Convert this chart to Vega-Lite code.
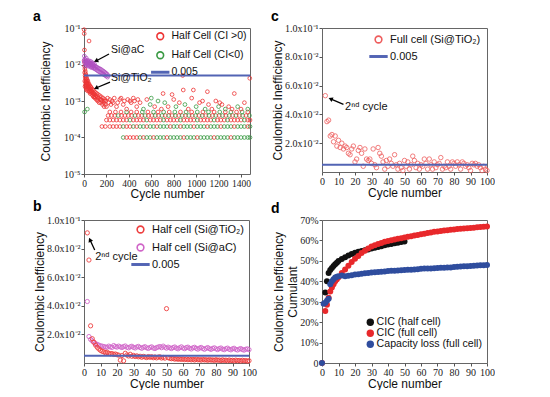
{
"$schema": "https://vega.github.io/schema/vega-lite/v6.json",
"background": "white",
"padding": {"left": 32, "top": 9, "right": 0, "bottom": 0},
"config": {
  "view": {"stroke": "#666", "strokeWidth": 1},
  "font": "Liberation Sans",
  "axis": {"labelFont": "Liberation Serif", "labelFontSize": 10, "labelColor": "#222", "titleFont": "Liberation Sans", "titleFontSize": 12, "titleFontWeight": "normal", "titleColor": "#111", "grid": false, "domain": false, "tickColor": "#555", "tickSize": 3, "labelPadding": 1, "labelFlush": false, "labelOverlap": false},
  "legend": {"labelFont": "Liberation Sans", "labelFontSize": 11, "labelColor": "#111", "padding": 0, "rowPadding": 4, "title": null},
  "title": {"font": "Liberation Sans", "fontSize": 14, "fontWeight": "bold", "color": "#000"}
},
"resolve": {"scale": {"color": "independent", "shape": "independent"}, "legend": {"color": "independent", "shape": "independent"}},
"datasets": {
  "ref": [{"y": 0.005}],
  "a": [
{"x":1,"y":0.09,"s":"r"},{"x":2,"y":0.07,"s":"r"},{"x":3,"y":0.012,"s":"r"},{"x":4,"y":0.025,"s":"r"},{"x":5,"y":0.009,"s":"r"},{"x":6,"y":0.006,"s":"r"},{"x":7,"y":0.0035,"s":"r"},{"x":8,"y":0.0075,"s":"r"},{"x":9,"y":0.0025,"s":"r"},{"x":10,"y":0.005,"s":"r"},{"x":11,"y":0.0045,"s":"r"},{"x":12,"y":0.0065,"s":"r"},{"x":13,"y":0.0028,"s":"r"},{"x":14,"y":0.004,"s":"r"},{"x":15,"y":0.0033,"s":"r"},{"x":16,"y":0.0055,"s":"r"},{"x":17,"y":0.0025,"s":"r"},{"x":18,"y":0.0035,"s":"r"},{"x":19,"y":0.0022,"s":"r"},{"x":20,"y":0.0048,"s":"r"},{"x":21,"y":0.0036,"s":"r"},{"x":22,"y":0.003,"s":"r"},{"x":23,"y":0.002,"s":"r"},{"x":24,"y":0.0042,"s":"r"},{"x":25,"y":0.0031,"s":"r"},{"x":26,"y":0.0027,"s":"r"},{"x":27,"y":0.0022,"s":"r"},{"x":28,"y":0.0038,"s":"r"},{"x":29,"y":0.0028,"s":"r"},{"x":30,"y":0.0032,"s":"r"},{"x":32,"y":0.0024,"s":"r"},{"x":33,"y":0.0019,"s":"r"},{"x":35,"y":0.0035,"s":"r"},{"x":36,"y":0.0029,"s":"r"},{"x":38,"y":0.0026,"s":"r"},{"x":40,"y":0.0021,"s":"r"},{"x":42,"y":0.0024,"s":"r"},{"x":43,"y":0.003,"s":"r"},{"x":45,"y":0.044,"s":"r"},{"x":47,"y":0.0023,"s":"r"},{"x":48,"y":0.0018,"s":"r"},{"x":50,"y":0.0027,"s":"r"},{"x":53,"y":0.0019,"s":"r"},{"x":55,"y":0.0016,"s":"r"},{"x":56,"y":0.0025,"s":"r"},{"x":59,"y":0.0021,"s":"r"},{"x":60,"y":0.0024,"s":"r"},{"x":62,"y":0.0017,"s":"r"},{"x":65,"y":0.0023,"s":"r"},{"x":68,"y":0.0019,"s":"r"},{"x":70,"y":0.0018,"s":"r"},{"x":71,"y":0.0015,"s":"r"},{"x":74,"y":0.0021,"s":"r"},{"x":77,"y":0.0017,"s":"r"},{"x":80,"y":0.0014,"s":"r"},{"x":83,"y":0.002,"s":"r"},{"x":85,"y":0.0013,"s":"r"},{"x":86,"y":0.0016,"s":"r"},{"x":89,"y":0.0013,"s":"r"},{"x":92,"y":0.0018,"s":"r"},{"x":95,"y":0.0015,"s":"r"},{"x":98,"y":0.0012,"s":"r"},{"x":100,"y":0.0013,"s":"r"},{"x":102,"y":0.0017,"s":"r"},{"x":106,"y":0.0014,"s":"r"},{"x":110,"y":0.0011,"s":"r"},{"x":114,"y":0.0016,"s":"r"},{"x":118,"y":0.0013,"s":"r"},{"x":120,"y":0.0011,"s":"r"},{"x":122,"y":0.001,"s":"r"},{"x":126,"y":0.0015,"s":"r"},{"x":130,"y":0.0012,"s":"r"},{"x":135,"y":0.0009,"s":"r"},{"x":140,"y":0.0014,"s":"r"},{"x":145,"y":0.0011,"s":"r"},{"x":150,"y":0.0009,"s":"r"},{"x":152,"y":0.0011,"s":"r"},{"x":155,"y":0.0013,"s":"r"},{"x":160,"y":0.001,"s":"r"},{"x":165,"y":0.0008,"s":"r"},{"x":170,"y":0.0012,"s":"r"},{"x":175,"y":0.0009,"s":"r"},{"x":180,"y":0.0007,"s":"r"},{"x":182,"y":0.001,"s":"r"},{"x":185,"y":0.0011,"s":"r"},{"x":190,"y":0.0008,"s":"r"},{"x":195,"y":0.001,"s":"r"},{"x":200,"y":0.0007,"s":"r"},{"x":210,"y":0.0012,"s":"r"},{"x":220,"y":0.0009,"s":"r"},{"x":230,"y":0.0011,"s":"r"},{"x":240,"y":0.0008,"s":"r"},{"x":250,"y":0.001,"s":"r"},{"x":270,"y":0.0012,"s":"r"},{"x":300,"y":0.0009,"s":"r"},{"x":330,"y":0.0012,"s":"r"},{"x":360,"y":0.001,"s":"r"},{"x":390,"y":0.0011,"s":"r"},{"x":420,"y":0.0009,"s":"r"},{"x":450,"y":0.001,"s":"r"},{"x":480,"y":0.0011,"s":"r"},
{"x":5,"y":0.0005,"s":"g"},{"x":30,"y":0.0006,"s":"g"},
{"x":350,"y":0.0001,"s":"g"},{"x":380,"y":0.0001,"s":"r"},{"x":410,"y":0.0001,"s":"r"},{"x":440,"y":0.0001,"s":"r"},{"x":470,"y":0.0001,"s":"r"},{"x":500,"y":0.0001,"s":"g"},{"x":530,"y":0.0001,"s":"r"},{"x":560,"y":0.0001,"s":"g"},{"x":590,"y":0.0001,"s":"g"},{"x":620,"y":0.0001,"s":"r"},{"x":650,"y":0.0001,"s":"g"},{"x":680,"y":0.0001,"s":"g"},{"x":710,"y":0.0001,"s":"g"},{"x":740,"y":0.0001,"s":"r"},{"x":770,"y":0.0001,"s":"g"},{"x":800,"y":0.0001,"s":"g"},{"x":830,"y":0.0001,"s":"g"},{"x":860,"y":0.0001,"s":"g"},{"x":890,"y":0.0001,"s":"r"},{"x":920,"y":0.0001,"s":"g"},{"x":950,"y":0.0001,"s":"g"},{"x":980,"y":0.0001,"s":"g"},{"x":1010,"y":0.0001,"s":"r"},{"x":1040,"y":0.0001,"s":"g"},{"x":1070,"y":0.0001,"s":"g"},{"x":1100,"y":0.0001,"s":"g"},{"x":1130,"y":0.0001,"s":"g"},{"x":1160,"y":0.0001,"s":"r"},{"x":1190,"y":0.0001,"s":"g"},{"x":1220,"y":0.0001,"s":"g"},{"x":1250,"y":0.0001,"s":"g"},{"x":1280,"y":0.0001,"s":"g"},{"x":1310,"y":0.0001,"s":"r"},{"x":1340,"y":0.0001,"s":"g"},{"x":1370,"y":0.0001,"s":"g"},{"x":1400,"y":0.0001,"s":"g"},{"x":1430,"y":0.0001,"s":"g"},{"x":1460,"y":0.0001,"s":"g"},{"x":1480,"y":0.0001,"s":"g"},
{"x":160,"y":0.0002,"s":"r"},{"x":190,"y":0.0002,"s":"r"},{"x":230,"y":0.0002,"s":"r"},{"x":260,"y":0.0002,"s":"r"},{"x":290,"y":0.0002,"s":"r"},{"x":320,"y":0.0002,"s":"r"},{"x":350,"y":0.0002,"s":"g"},{"x":380,"y":0.0002,"s":"r"},{"x":410,"y":0.0002,"s":"r"},{"x":440,"y":0.0002,"s":"g"},{"x":470,"y":0.0002,"s":"r"},{"x":500,"y":0.0002,"s":"g"},{"x":530,"y":0.0002,"s":"g"},{"x":560,"y":0.0002,"s":"r"},{"x":590,"y":0.0002,"s":"g"},{"x":620,"y":0.0002,"s":"g"},{"x":650,"y":0.0002,"s":"r"},{"x":680,"y":0.0002,"s":"g"},{"x":710,"y":0.0002,"s":"g"},{"x":740,"y":0.0002,"s":"g"},{"x":770,"y":0.0002,"s":"r"},{"x":800,"y":0.0002,"s":"g"},{"x":830,"y":0.0002,"s":"g"},{"x":860,"y":0.0002,"s":"r"},{"x":890,"y":0.0002,"s":"g"},{"x":920,"y":0.0002,"s":"g"},{"x":950,"y":0.0002,"s":"g"},{"x":980,"y":0.0002,"s":"r"},{"x":1010,"y":0.0002,"s":"g"},{"x":1040,"y":0.0002,"s":"g"},{"x":1070,"y":0.0002,"s":"g"},{"x":1100,"y":0.0002,"s":"r"},{"x":1130,"y":0.0002,"s":"g"},{"x":1160,"y":0.0002,"s":"g"},{"x":1190,"y":0.0002,"s":"g"},{"x":1220,"y":0.0002,"s":"r"},{"x":1250,"y":0.0002,"s":"g"},{"x":1280,"y":0.0002,"s":"g"},{"x":1310,"y":0.0002,"s":"g"},{"x":1340,"y":0.0002,"s":"r"},{"x":1370,"y":0.0002,"s":"g"},{"x":1400,"y":0.0002,"s":"g"},{"x":1430,"y":0.0002,"s":"g"},{"x":1460,"y":0.0002,"s":"r"},{"x":1480,"y":0.0002,"s":"g"},
{"x":200,"y":0.0003,"s":"r"},{"x":230,"y":0.0003,"s":"r"},{"x":260,"y":0.0003,"s":"r"},{"x":290,"y":0.0003,"s":"r"},{"x":320,"y":0.0003,"s":"r"},{"x":350,"y":0.0003,"s":"r"},{"x":380,"y":0.0003,"s":"r"},{"x":410,"y":0.0003,"s":"g"},{"x":440,"y":0.0003,"s":"r"},{"x":470,"y":0.0003,"s":"r"},{"x":500,"y":0.0003,"s":"r"},{"x":530,"y":0.0003,"s":"r"},{"x":560,"y":0.0003,"s":"g"},{"x":590,"y":0.0003,"s":"r"},{"x":620,"y":0.0003,"s":"r"},{"x":650,"y":0.0003,"s":"r"},{"x":680,"y":0.0003,"s":"r"},{"x":710,"y":0.0003,"s":"g"},{"x":740,"y":0.0003,"s":"r"},{"x":770,"y":0.0003,"s":"r"},{"x":800,"y":0.0003,"s":"r"},{"x":830,"y":0.0003,"s":"r"},{"x":860,"y":0.0003,"s":"g"},{"x":890,"y":0.0003,"s":"r"},{"x":920,"y":0.0003,"s":"r"},{"x":950,"y":0.0003,"s":"r"},{"x":980,"y":0.0003,"s":"r"},{"x":1010,"y":0.0003,"s":"g"},{"x":1040,"y":0.0003,"s":"r"},{"x":1070,"y":0.0003,"s":"r"},{"x":1100,"y":0.0003,"s":"r"},{"x":1130,"y":0.0003,"s":"r"},{"x":1160,"y":0.0003,"s":"g"},{"x":1190,"y":0.0003,"s":"r"},{"x":1220,"y":0.0003,"s":"r"},{"x":1250,"y":0.0003,"s":"r"},{"x":1280,"y":0.0003,"s":"g"},{"x":1310,"y":0.0003,"s":"r"},{"x":1340,"y":0.0003,"s":"r"},{"x":1370,"y":0.0003,"s":"r"},{"x":1400,"y":0.0003,"s":"r"},{"x":1430,"y":0.0003,"s":"g"},{"x":1460,"y":0.0003,"s":"r"},{"x":1480,"y":0.0003,"s":"r"},
{"x":215,"y":0.0004,"s":"r"},{"x":245,"y":0.0004,"s":"r"},{"x":275,"y":0.0004,"s":"r"},{"x":305,"y":0.0004,"s":"g"},{"x":335,"y":0.0004,"s":"r"},{"x":365,"y":0.0004,"s":"r"},{"x":395,"y":0.0004,"s":"r"},{"x":425,"y":0.0004,"s":"r"},{"x":455,"y":0.0004,"s":"g"},{"x":485,"y":0.0004,"s":"r"},{"x":515,"y":0.0004,"s":"r"},{"x":545,"y":0.0004,"s":"g"},{"x":575,"y":0.0004,"s":"r"},{"x":605,"y":0.0004,"s":"r"},{"x":635,"y":0.0004,"s":"g"},{"x":665,"y":0.0004,"s":"r"},{"x":695,"y":0.0004,"s":"g"},{"x":725,"y":0.0004,"s":"r"},{"x":755,"y":0.0004,"s":"g"},{"x":785,"y":0.0004,"s":"r"},{"x":815,"y":0.0004,"s":"g"},{"x":845,"y":0.0004,"s":"r"},{"x":875,"y":0.0004,"s":"g"},{"x":905,"y":0.0004,"s":"r"},{"x":935,"y":0.0004,"s":"g"},{"x":965,"y":0.0004,"s":"r"},{"x":995,"y":0.0004,"s":"g"},{"x":1025,"y":0.0004,"s":"r"},{"x":1055,"y":0.0004,"s":"g"},{"x":1085,"y":0.0004,"s":"r"},{"x":1115,"y":0.0004,"s":"g"},{"x":1145,"y":0.0004,"s":"r"},{"x":1175,"y":0.0004,"s":"g"},{"x":1205,"y":0.0004,"s":"r"},{"x":1235,"y":0.0004,"s":"g"},{"x":1265,"y":0.0004,"s":"r"},{"x":1295,"y":0.0004,"s":"g"},{"x":1325,"y":0.0004,"s":"r"},{"x":1355,"y":0.0004,"s":"g"},{"x":1385,"y":0.0004,"s":"r"},{"x":1415,"y":0.0004,"s":"g"},{"x":1445,"y":0.0004,"s":"r"},{"x":1475,"y":0.0004,"s":"g"},
{"x":230,"y":0.0005,"s":"r"},{"x":280,"y":0.0005,"s":"r"},{"x":330,"y":0.0005,"s":"r"},{"x":380,"y":0.0005,"s":"g"},{"x":420,"y":0.0005,"s":"r"},{"x":470,"y":0.0005,"s":"r"},{"x":520,"y":0.0005,"s":"g"},{"x":570,"y":0.0005,"s":"r"},{"x":620,"y":0.0005,"s":"g"},{"x":660,"y":0.0005,"s":"r"},{"x":710,"y":0.0005,"s":"g"},{"x":760,"y":0.0005,"s":"r"},{"x":810,"y":0.0005,"s":"g"},{"x":860,"y":0.0005,"s":"r"},{"x":910,"y":0.0005,"s":"g"},{"x":960,"y":0.0005,"s":"r"},{"x":1010,"y":0.0005,"s":"g"},{"x":1060,"y":0.0005,"s":"r"},{"x":1110,"y":0.0005,"s":"g"},{"x":1160,"y":0.0005,"s":"r"},{"x":1210,"y":0.0005,"s":"g"},{"x":1260,"y":0.0005,"s":"r"},{"x":1310,"y":0.0005,"s":"g"},{"x":1360,"y":0.0005,"s":"r"},{"x":1410,"y":0.0005,"s":"g"},{"x":1460,"y":0.0005,"s":"r"},
{"x":260,"y":0.0009,"s":"r"},{"x":290,"y":0.0007,"s":"r"},{"x":320,"y":0.0011,"s":"r"},{"x":350,"y":0.0008,"s":"r"},{"x":380,"y":0.0006,"s":"r"},{"x":410,"y":0.001,"s":"r"},{"x":440,"y":0.0012,"s":"r"},{"x":470,"y":0.0007,"s":"r"},{"x":500,"y":0.0009,"s":"r"},{"x":530,"y":0.0006,"s":"g"},{"x":560,"y":0.0011,"s":"r"},{"x":590,"y":0.0008,"s":"g"},{"x":600,"y":0.0012,"s":"g"},{"x":630,"y":0.0007,"s":"r"},{"x":660,"y":0.001,"s":"g"},{"x":690,"y":0.0006,"s":"r"},{"x":705,"y":0.0016,"s":"r"},{"x":720,"y":0.0009,"s":"g"},{"x":750,"y":0.0007,"s":"r"},{"x":785,"y":0.0015,"s":"r"},{"x":800,"y":0.0011,"s":"r"},{"x":820,"y":0.0007,"s":"g"},{"x":850,"y":0.0009,"s":"r"},{"x":880,"y":0.005,"s":"r"},{"x":885,"y":0.002,"s":"r"},{"x":900,"y":0.0008,"s":"g"},{"x":930,"y":0.0006,"s":"r"},{"x":960,"y":0.0012,"s":"r"},{"x":975,"y":0.002,"s":"r"},{"x":1000,"y":0.0007,"s":"g"},{"x":1030,"y":0.0009,"s":"r"},{"x":1057,"y":0.001,"s":"r"},{"x":1080,"y":0.0006,"s":"g"},{"x":1100,"y":0.0018,"s":"r"},{"x":1110,"y":0.0008,"s":"r"},{"x":1140,"y":0.0006,"s":"r"},{"x":1175,"y":0.001,"s":"r"},{"x":1200,"y":0.0007,"s":"g"},{"x":1210,"y":0.0009,"s":"r"},{"x":1230,"y":0.0008,"s":"r"},{"x":1260,"y":0.0006,"s":"g"},{"x":1290,"y":0.0007,"s":"r"},{"x":1320,"y":0.0006,"s":"r"},{"x":1340,"y":0.0016,"s":"r"},{"x":1370,"y":0.0007,"s":"g"},{"x":1400,"y":0.0006,"s":"r"},{"x":1430,"y":0.0009,"s":"r"},{"x":1460,"y":0.0006,"s":"g"},{"x":1478,"y":0.0042,"s":"r"},
{"x":1,"y":0.013,"s":"p"},{"x":3,"y":0.017,"s":"p"},{"x":5,"y":0.011,"s":"p"},{"x":8,"y":0.014,"s":"p"},{"x":10,"y":0.012,"s":"p"},{"x":13,"y":0.009,"s":"p"},{"x":15,"y":0.013,"s":"p"},{"x":18,"y":0.011,"s":"p"},{"x":20,"y":0.015,"s":"p"},{"x":23,"y":0.01,"s":"p"},{"x":25,"y":0.012,"s":"p"},{"x":28,"y":0.0095,"s":"p"},{"x":30,"y":0.011,"s":"p"},{"x":33,"y":0.013,"s":"p"},{"x":35,"y":0.0105,"s":"p"},{"x":38,"y":0.009,"s":"p"},{"x":40,"y":0.012,"s":"p"},{"x":43,"y":0.0115,"s":"p"},{"x":45,"y":0.0095,"s":"p"},{"x":48,"y":0.011,"s":"p"},{"x":50,"y":0.0125,"s":"p"},{"x":53,"y":0.0095,"s":"p"},{"x":55,"y":0.011,"s":"p"},{"x":58,"y":0.0085,"s":"p"},{"x":60,"y":0.0105,"s":"p"},{"x":63,"y":0.012,"s":"p"},{"x":65,"y":0.009,"s":"p"},{"x":68,"y":0.01,"s":"p"},{"x":70,"y":0.0082,"s":"p"},{"x":73,"y":0.0105,"s":"p"},{"x":75,"y":0.0095,"s":"p"},{"x":78,"y":0.0085,"s":"p"},{"x":80,"y":0.011,"s":"p"},{"x":83,"y":0.0088,"s":"p"},{"x":85,"y":0.0098,"s":"p"},{"x":88,"y":0.0078,"s":"p"},{"x":90,"y":0.0093,"s":"p"},{"x":93,"y":0.0105,"s":"p"},{"x":95,"y":0.008,"s":"p"},{"x":98,"y":0.009,"s":"p"},{"x":100,"y":0.0075,"s":"p"},{"x":105,"y":0.0088,"s":"p"},{"x":110,"y":0.0072,"s":"p"},{"x":115,"y":0.0085,"s":"p"},{"x":120,"y":0.0068,"s":"p"},{"x":125,"y":0.008,"s":"p"},{"x":130,"y":0.0065,"s":"p"},{"x":135,"y":0.0078,"s":"p"},{"x":140,"y":0.0062,"s":"p"},{"x":145,"y":0.0075,"s":"p"},{"x":150,"y":0.006,"s":"p"},{"x":155,"y":0.0072,"s":"p"},{"x":160,"y":0.0058,"s":"p"},{"x":165,"y":0.0068,"s":"p"},{"x":170,"y":0.0055,"s":"p"},{"x":175,"y":0.0065,"s":"p"},{"x":180,"y":0.0052,"s":"p"},{"x":185,"y":0.0062,"s":"p"},{"x":190,"y":0.005,"s":"p"},{"x":195,"y":0.0058,"s":"p"},{"x":200,"y":0.0048,"s":"p"},{"x":205,"y":0.0055,"s":"p"},{"x":210,"y":0.0045,"s":"p"},{"x":215,"y":0.005,"s":"p"}
  ],
  "aTxt": [{"x": 241, "y": 0.025, "t": "Si@aC"}, {"x": 241, "y": 0.0043, "t": "Si@TiO₂"}],
  "aArr": [{"x": 223, "y": 0.0194, "x2": 107, "y2": 0.0125}, {"x": 232, "y": 0.0033, "x2": 107, "y2": 0.00227}],
  "b": [
{"x":2,"y":0.043,"s":"p"},{"x":3,"y":0.0185,"s":"p"},{"x":4,"y":0.0165,"s":"p"},{"x":5,"y":0.0155,"s":"p"},{"x":6,"y":0.0145,"s":"p"},{"x":7,"y":0.0135,"s":"p"},{"x":8,"y":0.013,"s":"p"},{"x":9,"y":0.0125,"s":"p"},{"x":10,"y":0.012,"s":"p"},{"x":11,"y":0.0118,"s":"p"},{"x":12,"y":0.0115,"s":"p"},{"x":13,"y":0.0112,"s":"p"},{"x":14,"y":0.011,"s":"p"},{"x":15,"y":0.0118,"s":"p"},{"x":16,"y":0.0112,"s":"p"},{"x":17,"y":0.0109,"s":"p"},{"x":18,"y":0.0122,"s":"p"},{"x":19,"y":0.0115,"s":"p"},{"x":20,"y":0.0111,"s":"p"},{"x":21,"y":0.0118,"s":"p"},{"x":22,"y":0.0113,"s":"p"},{"x":23,"y":0.0108,"s":"p"},{"x":24,"y":0.0115,"s":"p"},{"x":25,"y":0.0119,"s":"p"},{"x":26,"y":0.011,"s":"p"},{"x":27,"y":0.0106,"s":"p"},{"x":28,"y":0.0113,"s":"p"},{"x":29,"y":0.0117,"s":"p"},{"x":30,"y":0.0109,"s":"p"},{"x":31,"y":0.0105,"s":"p"},{"x":32,"y":0.0112,"s":"p"},{"x":33,"y":0.0116,"s":"p"},{"x":34,"y":0.0108,"s":"p"},{"x":35,"y":0.0103,"s":"p"},{"x":36,"y":0.011,"s":"p"},{"x":37,"y":0.0114,"s":"p"},{"x":38,"y":0.0106,"s":"p"},{"x":39,"y":0.0102,"s":"p"},{"x":40,"y":0.0109,"s":"p"},{"x":41,"y":0.0113,"s":"p"},{"x":42,"y":0.0105,"s":"p"},{"x":43,"y":0.0101,"s":"p"},{"x":44,"y":0.0108,"s":"p"},{"x":45,"y":0.0112,"s":"p"},{"x":46,"y":0.0115,"s":"p"},{"x":47,"y":0.0107,"s":"p"},{"x":48,"y":0.0118,"s":"p"},{"x":49,"y":0.011,"s":"p"},{"x":50,"y":0.0104,"s":"p"},{"x":51,"y":0.0111,"s":"p"},{"x":52,"y":0.0106,"s":"p"},{"x":53,"y":0.0101,"s":"p"},{"x":54,"y":0.0108,"s":"p"},{"x":55,"y":0.0112,"s":"p"},{"x":56,"y":0.0104,"s":"p"},{"x":57,"y":0.0099,"s":"p"},{"x":58,"y":0.0107,"s":"p"},{"x":59,"y":0.0113,"s":"p"},{"x":60,"y":0.0105,"s":"p"},{"x":61,"y":0.01,"s":"p"},{"x":62,"y":0.0108,"s":"p"},{"x":63,"y":0.0111,"s":"p"},{"x":64,"y":0.0103,"s":"p"},{"x":65,"y":0.0098,"s":"p"},{"x":66,"y":0.0106,"s":"p"},{"x":67,"y":0.011,"s":"p"},{"x":68,"y":0.0102,"s":"p"},{"x":69,"y":0.0097,"s":"p"},{"x":70,"y":0.0104,"s":"p"},{"x":71,"y":0.0109,"s":"p"},{"x":72,"y":0.0101,"s":"p"},{"x":73,"y":0.0096,"s":"p"},{"x":74,"y":0.0103,"s":"p"},{"x":75,"y":0.0108,"s":"p"},{"x":76,"y":0.01,"s":"p"},{"x":77,"y":0.0095,"s":"p"},{"x":78,"y":0.0102,"s":"p"},{"x":79,"y":0.0106,"s":"p"},{"x":80,"y":0.0099,"s":"p"},{"x":81,"y":0.0094,"s":"p"},{"x":82,"y":0.0101,"s":"p"},{"x":83,"y":0.0105,"s":"p"},{"x":84,"y":0.0097,"s":"p"},{"x":85,"y":0.0093,"s":"p"},{"x":86,"y":0.01,"s":"p"},{"x":87,"y":0.0104,"s":"p"},{"x":88,"y":0.0096,"s":"p"},{"x":89,"y":0.0092,"s":"p"},{"x":90,"y":0.0099,"s":"p"},{"x":91,"y":0.0103,"s":"p"},{"x":92,"y":0.0095,"s":"p"},{"x":93,"y":0.0091,"s":"p"},{"x":94,"y":0.0097,"s":"p"},{"x":95,"y":0.0101,"s":"p"},{"x":96,"y":0.0094,"s":"p"},{"x":97,"y":0.009,"s":"p"},{"x":98,"y":0.0096,"s":"p"},{"x":99,"y":0.0099,"s":"p"},{"x":100,"y":0.0093,"s":"p"},
{"x":2,"y":0.091,"s":"r"},{"x":3,"y":0.072,"s":"r"},{"x":4,"y":0.026,"s":"r"},{"x":5,"y":0.017,"s":"r"},{"x":6,"y":0.0145,"s":"r"},{"x":7,"y":0.0125,"s":"r"},{"x":8,"y":0.011,"s":"r"},{"x":9,"y":0.0098,"s":"r"},{"x":10,"y":0.0088,"s":"r"},{"x":11,"y":0.0082,"s":"r"},{"x":12,"y":0.0078,"s":"r"},{"x":13,"y":0.0072,"s":"r"},{"x":14,"y":0.0075,"s":"r"},{"x":15,"y":0.0068,"s":"r"},{"x":16,"y":0.0064,"s":"r"},{"x":17,"y":0.0066,"s":"r"},{"x":18,"y":0.006,"s":"r"},{"x":19,"y":0.0063,"s":"r"},{"x":20,"y":0.0058,"s":"r"},{"x":21,"y":0.0055,"s":"r"},{"x":22,"y":0.002,"s":"r"},{"x":23,"y":0.0052,"s":"r"},{"x":24,"y":0.0015,"s":"r"},{"x":25,"y":0.0068,"s":"r"},{"x":26,"y":0.0056,"s":"r"},{"x":27,"y":0.0049,"s":"r"},{"x":28,"y":0.0061,"s":"r"},{"x":29,"y":0.0047,"s":"r"},{"x":30,"y":0.0053,"s":"r"},{"x":31,"y":0.0045,"s":"r"},{"x":32,"y":0.005,"s":"r"},{"x":33,"y":0.0043,"s":"r"},{"x":34,"y":0.0047,"s":"r"},{"x":35,"y":0.004,"s":"r"},{"x":36,"y":0.0046,"s":"r"},{"x":37,"y":0.0042,"s":"r"},{"x":38,"y":0.0038,"s":"r"},{"x":39,"y":0.0045,"s":"r"},{"x":40,"y":0.004,"s":"r"},{"x":41,"y":0.0044,"s":"r"},{"x":42,"y":0.0037,"s":"r"},{"x":43,"y":0.0042,"s":"r"},{"x":44,"y":0.0036,"s":"r"},{"x":45,"y":0.0041,"s":"r"},{"x":46,"y":0.0043,"s":"r"},{"x":47,"y":0.0035,"s":"r"},{"x":48,"y":0.0039,"s":"r"},{"x":49,"y":0.0034,"s":"r"},{"x":50,"y":0.038,"s":"r"},{"x":51,"y":0.0037,"s":"r"},{"x":52,"y":0.0033,"s":"r"},{"x":53,"y":0.003,"s":"r"},{"x":54,"y":0.0032,"s":"r"},{"x":55,"y":0.0027,"s":"r"},{"x":56,"y":0.003,"s":"r"},{"x":57,"y":0.0026,"s":"r"},{"x":58,"y":0.0029,"s":"r"},{"x":59,"y":0.0025,"s":"r"},{"x":60,"y":0.0028,"s":"r"},{"x":61,"y":0.0024,"s":"r"},{"x":62,"y":0.0027,"s":"r"},{"x":63,"y":0.0023,"s":"r"},{"x":64,"y":0.0026,"s":"r"},{"x":65,"y":0.0022,"s":"r"},{"x":66,"y":0.0025,"s":"r"},{"x":67,"y":0.0021,"s":"r"},{"x":68,"y":0.0026,"s":"r"},{"x":69,"y":0.0022,"s":"r"},{"x":70,"y":0.0024,"s":"r"},{"x":71,"y":0.002,"s":"r"},{"x":72,"y":0.0025,"s":"r"},{"x":73,"y":0.0021,"s":"r"},{"x":74,"y":0.0023,"s":"r"},{"x":75,"y":0.0019,"s":"r"},{"x":76,"y":0.0024,"s":"r"},{"x":77,"y":0.002,"s":"r"},{"x":78,"y":0.0022,"s":"r"},{"x":79,"y":0.0018,"s":"r"},{"x":80,"y":0.0023,"s":"r"},{"x":81,"y":0.0019,"s":"r"},{"x":82,"y":0.0021,"s":"r"},{"x":83,"y":0.0017,"s":"r"},{"x":84,"y":0.0022,"s":"r"},{"x":85,"y":0.0018,"s":"r"},{"x":86,"y":0.002,"s":"r"},{"x":87,"y":0.0016,"s":"r"},{"x":88,"y":0.0021,"s":"r"},{"x":89,"y":0.0017,"s":"r"},{"x":90,"y":0.0019,"s":"r"},{"x":91,"y":0.0015,"s":"r"},{"x":92,"y":0.002,"s":"r"},{"x":93,"y":0.0016,"s":"r"},{"x":94,"y":0.0018,"s":"r"},{"x":95,"y":0.0014,"s":"r"},{"x":96,"y":0.0019,"s":"r"},{"x":97,"y":0.0015,"s":"r"},{"x":98,"y":0.0017,"s":"r"},{"x":99,"y":0.0013,"s":"r"},{"x":100,"y":0.0016,"s":"r"}
  ],
  "bTxt": [{"x": 6.8, "y": 0.074, "t": "2ⁿᵈ cycle"}],
  "bArr": [{"x": 6.5, "y": 0.079, "x2": 3.6, "y2": 0.0862}],
  "c": [
{"x":2,"y":0.053,"s":"r"},{"x":3,"y":0.035,"s":"r"},{"x":4,"y":0.036,"s":"r"},{"x":5,"y":0.025,"s":"r"},{"x":6,"y":0.026,"s":"r"},{"x":7,"y":0.021,"s":"r"},{"x":8,"y":0.025,"s":"r"},{"x":9,"y":0.018,"s":"r"},{"x":10,"y":0.022,"s":"r"},{"x":11,"y":0.017,"s":"r"},{"x":12,"y":0.02,"s":"r"},{"x":13,"y":0.016,"s":"r"},{"x":14,"y":0.018,"s":"r"},{"x":15,"y":0.017,"s":"r"},{"x":16,"y":0.013,"s":"r"},{"x":17,"y":0.012,"s":"r"},{"x":18,"y":0.016,"s":"r"},{"x":19,"y":0.018,"s":"r"},{"x":20,"y":0.007,"s":"r"},{"x":21,"y":0.009,"s":"r"},{"x":22,"y":0.015,"s":"r"},{"x":23,"y":0.017,"s":"r"},{"x":24,"y":0.013,"s":"r"},{"x":25,"y":0.004,"s":"r"},{"x":26,"y":0.016,"s":"r"},{"x":27,"y":0.009,"s":"r"},{"x":28,"y":0.008,"s":"r"},{"x":29,"y":0.009,"s":"r"},{"x":30,"y":0.006,"s":"r"},{"x":31,"y":0.016,"s":"r"},{"x":32,"y":0.005,"s":"r"},{"x":33,"y":0.003,"s":"r"},{"x":34,"y":0.017,"s":"r"},{"x":35,"y":0.013,"s":"r"},{"x":36,"y":0.011,"s":"r"},{"x":37,"y":0.007,"s":"r"},{"x":38,"y":0.002,"s":"r"},{"x":39,"y":0.008,"s":"r"},{"x":40,"y":0.004,"s":"r"},{"x":41,"y":0.009,"s":"r"},{"x":42,"y":0.006,"s":"r"},{"x":43,"y":0.004,"s":"r"},{"x":44,"y":0.012,"s":"r"},{"x":45,"y":0.005,"s":"r"},{"x":46,"y":0.002,"s":"r"},{"x":47,"y":0.006,"s":"r"},{"x":48,"y":0.003,"s":"r"},{"x":49,"y":0.001,"s":"r"},{"x":50,"y":0.008,"s":"r"},{"x":51,"y":0.004,"s":"r"},{"x":52,"y":0.007,"s":"r"},{"x":53,"y":0.002,"s":"r"},{"x":54,"y":0.005,"s":"r"},{"x":55,"y":0.011,"s":"r"},{"x":56,"y":0.008,"s":"r"},{"x":57,"y":0.003,"s":"r"},{"x":58,"y":0.006,"s":"r"},{"x":59,"y":0.002,"s":"r"},{"x":60,"y":0.005,"s":"r"},{"x":61,"y":0.004,"s":"r"},{"x":62,"y":0.009,"s":"r"},{"x":63,"y":0.006,"s":"r"},{"x":64,"y":0.002,"s":"r"},{"x":65,"y":0.009,"s":"r"},{"x":66,"y":0.005,"s":"r"},{"x":67,"y":0.002,"s":"r"},{"x":68,"y":0.007,"s":"r"},{"x":69,"y":0.003,"s":"r"},{"x":70,"y":0.005,"s":"r"},{"x":71,"y":0.006,"s":"r"},{"x":72,"y":0.01,"s":"r"},{"x":73,"y":0.002,"s":"r"},{"x":74,"y":0.004,"s":"r"},{"x":75,"y":0.003,"s":"r"},{"x":76,"y":0.007,"s":"r"},{"x":77,"y":0.004,"s":"r"},{"x":78,"y":0.002,"s":"r"},{"x":79,"y":0.007,"s":"r"},{"x":80,"y":0.006,"s":"r"},{"x":81,"y":0.004,"s":"r"},{"x":82,"y":0.007,"s":"r"},{"x":83,"y":0.005,"s":"r"},{"x":84,"y":0.002,"s":"r"},{"x":85,"y":0.007,"s":"r"},{"x":86,"y":0.006,"s":"r"},{"x":87,"y":0.004,"s":"r"},{"x":88,"y":0.005,"s":"r"},{"x":89,"y":0.003,"s":"r"},{"x":90,"y":0.001,"s":"r"},{"x":91,"y":0.006,"s":"r"},{"x":92,"y":0.005,"s":"r"},{"x":93,"y":0.006,"s":"r"},{"x":94,"y":0.004,"s":"r"},{"x":95,"y":0.005,"s":"r"},{"x":96,"y":0.003,"s":"r"},{"x":97,"y":0.001,"s":"r"},{"x":98,"y":0.004,"s":"r"},{"x":99,"y":0.002,"s":"r"},{"x":100,"y":0.001,"s":"r"}
  ],
  "cTxt": [{"x": 14, "y": 0.045, "t": "2ⁿᵈ cycle"}],
  "cArr": [{"x": 13, "y": 0.047, "x2": 5.2, "y2": 0.0508}],
  "d": [
{"x":2,"y":34.5,"s":"h"},{"x":3,"y":40,"s":"h"},{"x":4,"y":44,"s":"h"},{"x":5,"y":45.5,"s":"h"},{"x":6,"y":46.5,"s":"h"},{"x":7,"y":47.5,"s":"h"},{"x":8,"y":48.3,"s":"h"},{"x":9,"y":49.1,"s":"h"},{"x":10,"y":49.9,"s":"h"},{"x":12,"y":50.9,"s":"h"},{"x":14,"y":51.8,"s":"h"},{"x":16,"y":52.6,"s":"h"},{"x":18,"y":53.3,"s":"h"},{"x":20,"y":54,"s":"h"},{"x":22,"y":54.4,"s":"h"},{"x":24,"y":54.8,"s":"h"},{"x":26,"y":55.2,"s":"h"},{"x":28,"y":55.6,"s":"h"},{"x":30,"y":56,"s":"h"},{"x":32,"y":56.4,"s":"h"},{"x":34,"y":56.8,"s":"h"},{"x":36,"y":57.2,"s":"h"},{"x":38,"y":57.6,"s":"h"},{"x":40,"y":58,"s":"h"},{"x":42,"y":58.3,"s":"h"},{"x":44,"y":58.6,"s":"h"},{"x":46,"y":58.9,"s":"h"},{"x":48,"y":59.2,"s":"h"},{"x":50,"y":59.5,"s":"h"},
{"x":0,"y":0,"s":"f"},{"x":2,"y":25.5,"s":"f"},{"x":3,"y":28.5,"s":"f"},{"x":4,"y":32,"s":"f"},{"x":5,"y":35,"s":"f"},{"x":6,"y":37,"s":"f"},{"x":7,"y":38.6,"s":"f"},{"x":8,"y":40,"s":"f"},{"x":9,"y":41,"s":"f"},{"x":10,"y":42,"s":"f"},{"x":12,"y":44,"s":"f"},{"x":14,"y":45.8,"s":"f"},{"x":16,"y":47.6,"s":"f"},{"x":18,"y":49.4,"s":"f"},{"x":20,"y":51,"s":"f"},{"x":22,"y":52.4,"s":"f"},{"x":24,"y":53.8,"s":"f"},{"x":26,"y":55,"s":"f"},{"x":28,"y":56,"s":"f"},{"x":30,"y":57,"s":"f"},{"x":32,"y":57.7,"s":"f"},{"x":34,"y":58.3,"s":"f"},{"x":36,"y":58.8,"s":"f"},{"x":38,"y":59.3,"s":"f"},{"x":40,"y":59.7,"s":"f"},{"x":42,"y":60.1,"s":"f"},{"x":44,"y":60.5,"s":"f"},{"x":46,"y":60.8,"s":"f"},{"x":48,"y":61.1,"s":"f"},{"x":50,"y":61.4,"s":"f"},{"x":52,"y":61.8,"s":"f"},{"x":54,"y":62.1,"s":"f"},{"x":56,"y":62.4,"s":"f"},{"x":58,"y":62.7,"s":"f"},{"x":60,"y":63,"s":"f"},{"x":62,"y":63.3,"s":"f"},{"x":64,"y":63.6,"s":"f"},{"x":66,"y":63.9,"s":"f"},{"x":68,"y":64.2,"s":"f"},{"x":70,"y":64.4,"s":"f"},{"x":72,"y":64.6,"s":"f"},{"x":74,"y":64.8,"s":"f"},{"x":76,"y":65,"s":"f"},{"x":78,"y":65.2,"s":"f"},{"x":80,"y":65.4,"s":"f"},{"x":82,"y":65.55,"s":"f"},{"x":84,"y":65.7,"s":"f"},{"x":86,"y":65.85,"s":"f"},{"x":88,"y":66,"s":"f"},{"x":90,"y":66.1,"s":"f"},{"x":92,"y":66.25,"s":"f"},{"x":94,"y":66.4,"s":"f"},{"x":96,"y":66.55,"s":"f"},{"x":98,"y":66.7,"s":"f"},{"x":100,"y":66.8,"s":"f"},
{"x":0,"y":0,"s":"c"},{"x":1,"y":29,"s":"c"},{"x":2,"y":29.5,"s":"c"},{"x":3,"y":30.5,"s":"c"},{"x":4,"y":31.5,"s":"c"},{"x":5,"y":38.5,"s":"c"},{"x":6,"y":40,"s":"c"},{"x":7,"y":41,"s":"c"},{"x":8,"y":41.8,"s":"c"},{"x":9,"y":42.2,"s":"c"},{"x":10,"y":42.5,"s":"c"},{"x":12,"y":42.8,"s":"c"},{"x":14,"y":42.5,"s":"c"},{"x":16,"y":42.7,"s":"c"},{"x":18,"y":43,"s":"c"},{"x":20,"y":43.3,"s":"c"},{"x":22,"y":43.5,"s":"c"},{"x":24,"y":43.7,"s":"c"},{"x":26,"y":43.9,"s":"c"},{"x":28,"y":44.1,"s":"c"},{"x":30,"y":44.3,"s":"c"},{"x":32,"y":44.4,"s":"c"},{"x":34,"y":44.5,"s":"c"},{"x":36,"y":44.7,"s":"c"},{"x":38,"y":44.8,"s":"c"},{"x":40,"y":45,"s":"c"},{"x":42,"y":45.1,"s":"c"},{"x":44,"y":45.2,"s":"c"},{"x":46,"y":45.3,"s":"c"},{"x":48,"y":45.4,"s":"c"},{"x":50,"y":45.5,"s":"c"},{"x":52,"y":45.6,"s":"c"},{"x":54,"y":45.7,"s":"c"},{"x":56,"y":45.8,"s":"c"},{"x":58,"y":45.9,"s":"c"},{"x":60,"y":46.1,"s":"c"},{"x":62,"y":46.2,"s":"c"},{"x":64,"y":46.3,"s":"c"},{"x":66,"y":46.3,"s":"c"},{"x":68,"y":46.4,"s":"c"},{"x":70,"y":46.5,"s":"c"},{"x":72,"y":46.6,"s":"c"},{"x":74,"y":46.6,"s":"c"},{"x":76,"y":46.7,"s":"c"},{"x":78,"y":46.8,"s":"c"},{"x":80,"y":47,"s":"c"},{"x":82,"y":47.1,"s":"c"},{"x":84,"y":47.2,"s":"c"},{"x":86,"y":47.3,"s":"c"},{"x":88,"y":47.4,"s":"c"},{"x":90,"y":47.5,"s":"c"},{"x":92,"y":47.6,"s":"c"},{"x":94,"y":47.7,"s":"c"},{"x":96,"y":47.8,"s":"c"},{"x":98,"y":47.9,"s":"c"},{"x":100,"y":48,"s":"c"}
  ]
},
"bounds": "flush",
"columns": 2,
"spacing": {"row": 46, "column": 72},
"concat": [
 {
  "width": 166, "height": 146,
  "title": {"text": "a", "anchor": "start", "frame": "group", "dx": -51, "offset": -12, "baseline": "alphabetic"},
  "layer": [
   {"data": {"name": "a"},
    "mark": {"type": "point", "size": 14, "strokeWidth": 0.8, "opacity": 1},
    "encoding": {
     "x": {"field": "x", "type": "quantitative", "scale": {"domain": [0, 1480], "nice": false, "zero": false},
           "axis": {"title": "Cycle number", "values": [0,200,400,600,800,1000,1200,1400], "format": "d", "labelFontSize": 9.5, "labelOverlap": false, "titlePadding": 1}},
     "y": {"field": "y", "type": "quantitative", "scale": {"type": "log", "domain": [0.00001, 0.1], "nice": false},
           "axis": {"title": "Coulombic Inefficiency", "values": [0.00001, 0.0001, 0.001, 0.01, 0.1], "labelOverlap": false, "labelExpr": "'10' + ['⁻⁵','⁻⁴','⁻³','⁻²','⁻¹'][round(log(datum.value)/LN10)+5]", "minExtent": 30, "maxExtent": 30, "titlePadding": 2}},
     "color": {"field": "s", "type": "nominal", "scale": {"domain": ["r","g","p","l"], "range": ["#ee3535","#3a9a44","#b050c0","#5264b4"]},
       "legend": {"orient": "top-right", "offset": 3, "values": ["r","g","l"], "symbolSize": 45, "symbolStrokeWidth": 1.6, "labelOffset": 6, "rowPadding": 5, "labelFontSize": 10.5,
         "labelExpr": "datum.value=='r' ? 'Half Cell (CI >0)' : datum.value=='g' ? 'Half Cell (CI<0)' : '0.005'"}},
     "shape": {"field": "s", "type": "nominal", "scale": {"domain": ["r","g","p","l"], "range": ["circle","circle","circle","M-2.5,-0.2H2.5V0.2H-2.5Z"]},
       "legend": {"orient": "top-right", "offset": 3, "values": ["r","g","l"], "symbolSize": 45, "symbolStrokeWidth": 1.6, "labelOffset": 6, "rowPadding": 5, "labelFontSize": 10.5,
         "labelExpr": "datum.value=='r' ? 'Half Cell (CI >0)' : datum.value=='g' ? 'Half Cell (CI<0)' : '0.005'"}}
    }},
   {"data": {"name": "ref"}, "mark": {"type": "rule", "color": "#5264b4", "strokeWidth": 2},
    "encoding": {"y": {"field": "y", "type": "quantitative", "scale": {"type": "log", "domain": [0.00001, 0.1], "nice": false},
           "axis": {"title": "Coulombic Inefficiency", "values": [0.00001, 0.0001, 0.001, 0.01, 0.1], "labelOverlap": false, "labelExpr": "'10' + ['⁻⁵','⁻⁴','⁻³','⁻²','⁻¹'][round(log(datum.value)/LN10)+5]", "minExtent": 30, "maxExtent": 30, "titlePadding": 2}}}},
   {"data": {"name": "aArr"}, "mark": {"type": "rule", "color": "#000", "strokeWidth": 1.3},
    "encoding": {
     "x": {"field": "x", "type": "quantitative", "scale": {"domain": [0, 1480], "nice": false, "zero": false},
           "axis": {"title": "Cycle number", "values": [0,200,400,600,800,1000,1200,1400], "format": "d", "labelFontSize": 9.5, "labelOverlap": false, "titlePadding": 1}},
     "y": {"field": "y", "type": "quantitative", "scale": {"type": "log", "domain": [0.00001, 0.1], "nice": false},
           "axis": {"title": "Coulombic Inefficiency", "values": [0.00001, 0.0001, 0.001, 0.01, 0.1], "labelOverlap": false, "labelExpr": "'10' + ['⁻⁵','⁻⁴','⁻³','⁻²','⁻¹'][round(log(datum.value)/LN10)+5]", "minExtent": 30, "maxExtent": 30, "titlePadding": 2}},
     "x2": {"field": "x2"}, "y2": {"field": "y2"}}},
   {"data": {"name": "aArr"}, "mark": {"type": "point", "shape": "triangle-up", "filled": true, "color": "#000", "size": 24, "angle": 245, "opacity": 1},
    "encoding": {
     "x": {"field": "x2", "type": "quantitative", "scale": {"domain": [0, 1480], "nice": false, "zero": false},
           "axis": {"title": "Cycle number", "values": [0,200,400,600,800,1000,1200,1400], "format": "d", "labelFontSize": 9.5, "labelOverlap": false, "titlePadding": 1}},
     "y": {"field": "y2", "type": "quantitative", "scale": {"type": "log", "domain": [0.00001, 0.1], "nice": false},
           "axis": {"title": "Coulombic Inefficiency", "values": [0.00001, 0.0001, 0.001, 0.01, 0.1], "labelOverlap": false, "labelExpr": "'10' + ['⁻⁵','⁻⁴','⁻³','⁻²','⁻¹'][round(log(datum.value)/LN10)+5]", "minExtent": 30, "maxExtent": 30, "titlePadding": 2}}}},
   {"data": {"name": "aTxt"}, "mark": {"type": "text", "align": "left", "baseline": "middle", "fontSize": 10.5, "font": "Liberation Sans", "color": "#111"},
    "encoding": {
     "x": {"field": "x", "type": "quantitative", "scale": {"domain": [0, 1480], "nice": false, "zero": false},
           "axis": {"title": "Cycle number", "values": [0,200,400,600,800,1000,1200,1400], "format": "d", "labelFontSize": 9.5, "labelOverlap": false, "titlePadding": 1}},
     "y": {"field": "y", "type": "quantitative", "scale": {"type": "log", "domain": [0.00001, 0.1], "nice": false},
           "axis": {"title": "Coulombic Inefficiency", "values": [0.00001, 0.0001, 0.001, 0.01, 0.1], "labelOverlap": false, "labelExpr": "'10' + ['⁻⁵','⁻⁴','⁻³','⁻²','⁻¹'][round(log(datum.value)/LN10)+5]", "minExtent": 30, "maxExtent": 30, "titlePadding": 2}},
     "text": {"field": "t"}}}
  ]
 },
 {
  "width": 165, "height": 144,
  "title": {"text": "c", "anchor": "start", "frame": "group", "dx": -51, "offset": -12, "baseline": "alphabetic"},
  "layer": [
   {"data": {"name": "c"},
    "mark": {"type": "point", "size": 20, "strokeWidth": 0.8, "opacity": 1},
    "encoding": {
     "x": {"field": "x", "type": "quantitative", "scale": {"domain": [0, 100], "nice": false},
           "axis": {"title": "Cycle number", "values": [0,10,20,30,40,50,60,70,80,90,100], "labelOverlap": false, "titlePadding": 1}},
     "y": {"field": "y", "type": "quantitative", "scale": {"domain": [0, 0.1], "nice": false},
           "axis": {"title": "Coulombic Inefficiency", "values": [0.02, 0.04, 0.06, 0.08, 0.1], "labelOverlap": false, "labelExpr": "datum.value >= 0.099 ? '1.0x10⁻¹' : format(datum.value*100, '.1f') + 'x10⁻²'", "minExtent": 36, "maxExtent": 36, "titlePadding": 2}},
     "color": {"field": "s", "type": "nominal", "scale": {"domain": ["r","l"], "range": ["#ee5e5e","#5264b4"]},
       "legend": {"orient": "top-right", "offset": 6, "values": ["r","l"], "symbolSize": 45, "symbolStrokeWidth": 1.6, "labelOffset": 6, "rowPadding": 3,
         "labelExpr": "datum.value=='r' ? 'Full cell (Si@TiO₂)' : '0.005'"}},
     "shape": {"field": "s", "type": "nominal", "scale": {"domain": ["r","l"], "range": ["circle","M-2.5,-0.2H2.5V0.2H-2.5Z"]},
       "legend": {"orient": "top-right", "offset": 6, "values": ["r","l"], "symbolSize": 45, "symbolStrokeWidth": 1.6, "labelOffset": 6, "rowPadding": 3,
         "labelExpr": "datum.value=='r' ? 'Full cell (Si@TiO₂)' : '0.005'"}}
    }},
   {"data": {"name": "ref"}, "mark": {"type": "rule", "color": "#5264b4", "strokeWidth": 2},
    "encoding": {"y": {"field": "y", "type": "quantitative", "scale": {"domain": [0, 0.1], "nice": false},
           "axis": {"title": "Coulombic Inefficiency", "values": [0.02, 0.04, 0.06, 0.08, 0.1], "labelOverlap": false, "labelExpr": "datum.value >= 0.099 ? '1.0x10⁻¹' : format(datum.value*100, '.1f') + 'x10⁻²'", "minExtent": 36, "maxExtent": 36, "titlePadding": 2}}}},
   {"data": {"name": "cArr"}, "mark": {"type": "rule", "color": "#000", "strokeWidth": 1.3},
    "encoding": {
     "x": {"field": "x", "type": "quantitative", "scale": {"domain": [0, 100], "nice": false},
           "axis": {"title": "Cycle number", "values": [0,10,20,30,40,50,60,70,80,90,100], "labelOverlap": false, "titlePadding": 1}},
     "y": {"field": "y", "type": "quantitative", "scale": {"domain": [0, 0.1], "nice": false},
           "axis": {"title": "Coulombic Inefficiency", "values": [0.02, 0.04, 0.06, 0.08, 0.1], "labelOverlap": false, "labelExpr": "datum.value >= 0.099 ? '1.0x10⁻¹' : format(datum.value*100, '.1f') + 'x10⁻²'", "minExtent": 36, "maxExtent": 36, "titlePadding": 2}},
     "x2": {"field": "x2"}, "y2": {"field": "y2"}}},
   {"data": {"name": "cArr"}, "mark": {"type": "point", "shape": "triangle-up", "filled": true, "color": "#000", "size": 24, "angle": 294, "opacity": 1},
    "encoding": {
     "x": {"field": "x2", "type": "quantitative", "scale": {"domain": [0, 100], "nice": false},
           "axis": {"title": "Cycle number", "values": [0,10,20,30,40,50,60,70,80,90,100], "labelOverlap": false, "titlePadding": 1}},
     "y": {"field": "y2", "type": "quantitative", "scale": {"domain": [0, 0.1], "nice": false},
           "axis": {"title": "Coulombic Inefficiency", "values": [0.02, 0.04, 0.06, 0.08, 0.1], "labelOverlap": false, "labelExpr": "datum.value >= 0.099 ? '1.0x10⁻¹' : format(datum.value*100, '.1f') + 'x10⁻²'", "minExtent": 36, "maxExtent": 36, "titlePadding": 2}}}},
   {"data": {"name": "cTxt"}, "mark": {"type": "text", "align": "left", "baseline": "middle", "fontSize": 11, "font": "Liberation Sans", "color": "#111"},
    "encoding": {
     "x": {"field": "x", "type": "quantitative", "scale": {"domain": [0, 100], "nice": false},
           "axis": {"title": "Cycle number", "values": [0,10,20,30,40,50,60,70,80,90,100], "labelOverlap": false, "titlePadding": 1}},
     "y": {"field": "y", "type": "quantitative", "scale": {"domain": [0, 0.1], "nice": false},
           "axis": {"title": "Coulombic Inefficiency", "values": [0.02, 0.04, 0.06, 0.08, 0.1], "labelOverlap": false, "labelExpr": "datum.value >= 0.099 ? '1.0x10⁻¹' : format(datum.value*100, '.1f') + 'x10⁻²'", "minExtent": 36, "maxExtent": 36, "titlePadding": 2}},
     "text": {"field": "t"}}}
  ]
 },
 {
  "width": 165, "height": 143,
  "title": {"text": "b", "anchor": "start", "frame": "group", "dx": -51, "offset": -10, "baseline": "alphabetic"},
  "layer": [
   {"data": {"name": "b"},
    "mark": {"type": "point", "size": 18, "strokeWidth": 0.9, "opacity": 1},
    "encoding": {
     "x": {"field": "x", "type": "quantitative", "scale": {"domain": [0, 100], "nice": false},
           "axis": {"title": "Cycle number", "values": [0,10,20,30,40,50,60,70,80,90,100], "labelOverlap": false, "titlePadding": 1}},
     "y": {"field": "y", "type": "quantitative", "scale": {"domain": [0, 0.1], "nice": false},
           "axis": {"title": "Coulombic Inefficiency", "values": [0.02, 0.04, 0.06, 0.08, 0.1], "labelOverlap": false, "labelExpr": "datum.value >= 0.099 ? '1.0x10⁻¹' : format(datum.value*100, '.1f') + 'x10⁻²'", "minExtent": 36, "maxExtent": 36, "titlePadding": 2}},
     "color": {"field": "s", "type": "nominal", "scale": {"domain": ["r","p","l"], "range": ["#ee4040","#d066c8","#5264b4"]},
       "legend": {"orient": "top-right", "offset": 4, "values": ["r","p","l"], "symbolSize": 45, "symbolStrokeWidth": 1.6, "labelOffset": 6, "rowPadding": 3,
         "labelExpr": "datum.value=='r' ? 'Half cell (Si@TiO₂)' : datum.value=='p' ? 'Half cell (Si@aC)' : '0.005'"}},
     "shape": {"field": "s", "type": "nominal", "scale": {"domain": ["r","p","l"], "range": ["circle","circle","M-2.5,-0.2H2.5V0.2H-2.5Z"]},
       "legend": {"orient": "top-right", "offset": 4, "values": ["r","p","l"], "symbolSize": 45, "symbolStrokeWidth": 1.6, "labelOffset": 6, "rowPadding": 3,
         "labelExpr": "datum.value=='r' ? 'Half cell (Si@TiO₂)' : datum.value=='p' ? 'Half cell (Si@aC)' : '0.005'"}}
    }},
   {"data": {"name": "ref"}, "mark": {"type": "rule", "color": "#5264b4", "strokeWidth": 2},
    "encoding": {"y": {"field": "y", "type": "quantitative", "scale": {"domain": [0, 0.1], "nice": false},
           "axis": {"title": "Coulombic Inefficiency", "values": [0.02, 0.04, 0.06, 0.08, 0.1], "labelOverlap": false, "labelExpr": "datum.value >= 0.099 ? '1.0x10⁻¹' : format(datum.value*100, '.1f') + 'x10⁻²'", "minExtent": 36, "maxExtent": 36, "titlePadding": 2}}}},
   {"data": {"name": "bArr"}, "mark": {"type": "rule", "color": "#000", "strokeWidth": 1.3},
    "encoding": {
     "x": {"field": "x", "type": "quantitative", "scale": {"domain": [0, 100], "nice": false},
           "axis": {"title": "Cycle number", "values": [0,10,20,30,40,50,60,70,80,90,100], "labelOverlap": false, "titlePadding": 1}},
     "y": {"field": "y", "type": "quantitative", "scale": {"domain": [0, 0.1], "nice": false},
           "axis": {"title": "Coulombic Inefficiency", "values": [0.02, 0.04, 0.06, 0.08, 0.1], "labelOverlap": false, "labelExpr": "datum.value >= 0.099 ? '1.0x10⁻¹' : format(datum.value*100, '.1f') + 'x10⁻²'", "minExtent": 36, "maxExtent": 36, "titlePadding": 2}},
     "x2": {"field": "x2"}, "y2": {"field": "y2"}}},
   {"data": {"name": "bArr"}, "mark": {"type": "point", "shape": "triangle-up", "filled": true, "color": "#000", "size": 24, "angle": 336, "opacity": 1},
    "encoding": {
     "x": {"field": "x2", "type": "quantitative", "scale": {"domain": [0, 100], "nice": false},
           "axis": {"title": "Cycle number", "values": [0,10,20,30,40,50,60,70,80,90,100], "labelOverlap": false, "titlePadding": 1}},
     "y": {"field": "y2", "type": "quantitative", "scale": {"domain": [0, 0.1], "nice": false},
           "axis": {"title": "Coulombic Inefficiency", "values": [0.02, 0.04, 0.06, 0.08, 0.1], "labelOverlap": false, "labelExpr": "datum.value >= 0.099 ? '1.0x10⁻¹' : format(datum.value*100, '.1f') + 'x10⁻²'", "minExtent": 36, "maxExtent": 36, "titlePadding": 2}}}},
   {"data": {"name": "bTxt"}, "mark": {"type": "text", "align": "left", "baseline": "middle", "fontSize": 11, "font": "Liberation Sans", "color": "#111"},
    "encoding": {
     "x": {"field": "x", "type": "quantitative", "scale": {"domain": [0, 100], "nice": false},
           "axis": {"title": "Cycle number", "values": [0,10,20,30,40,50,60,70,80,90,100], "labelOverlap": false, "titlePadding": 1}},
     "y": {"field": "y", "type": "quantitative", "scale": {"domain": [0, 0.1], "nice": false},
           "axis": {"title": "Coulombic Inefficiency", "values": [0.02, 0.04, 0.06, 0.08, 0.1], "labelOverlap": false, "labelExpr": "datum.value >= 0.099 ? '1.0x10⁻¹' : format(datum.value*100, '.1f') + 'x10⁻²'", "minExtent": 36, "maxExtent": 36, "titlePadding": 2}},
     "text": {"field": "t"}}}
  ]
 },
 {
  "width": 165, "height": 143,
  "title": {"text": "d", "anchor": "start", "frame": "group", "dx": -51, "offset": -12, "baseline": "alphabetic"},
  "layer": [
   {"data": {"name": "d"},
    "mark": {"type": "point", "filled": true, "size": 36, "opacity": 1, "strokeWidth": 0},
    "encoding": {
     "x": {"field": "x", "type": "quantitative", "scale": {"domain": [0, 100], "nice": false},
           "axis": {"title": "Cycle number", "values": [0,10,20,30,40,50,60,70,80,90,100], "labelOverlap": false, "titlePadding": 1}},
     "y": {"field": "y", "type": "quantitative", "scale": {"domain": [0, 70], "nice": false},
           "axis": {"title": ["Coulombic Inefficiency", "Cumulant"], "values": [0,10,20,30,40,50,60,70], "labelOverlap": false, "labelExpr": "datum.value == 0 ? '0' : datum.value + '%'", "minExtent": 21, "maxExtent": 21, "titlePadding": 2}},
     "color": {"field": "s", "type": "nominal", "scale": {"domain": ["h","f","c"], "range": ["#111111","#e8282b","#2f4d9e"]},
       "legend": {"orient": "none", "legendX": 43, "legendY": 97, "symbolSize": 55, "labelOffset": 1, "rowPadding": 0, "labelFontSize": 10.6,
         "labelExpr": "datum.value=='h' ? 'CIC (half cell)' : datum.value=='f' ? 'CIC (full cell)' : 'Capacity loss (full cell)'"}}
    }}
  ]
 }
]
}
